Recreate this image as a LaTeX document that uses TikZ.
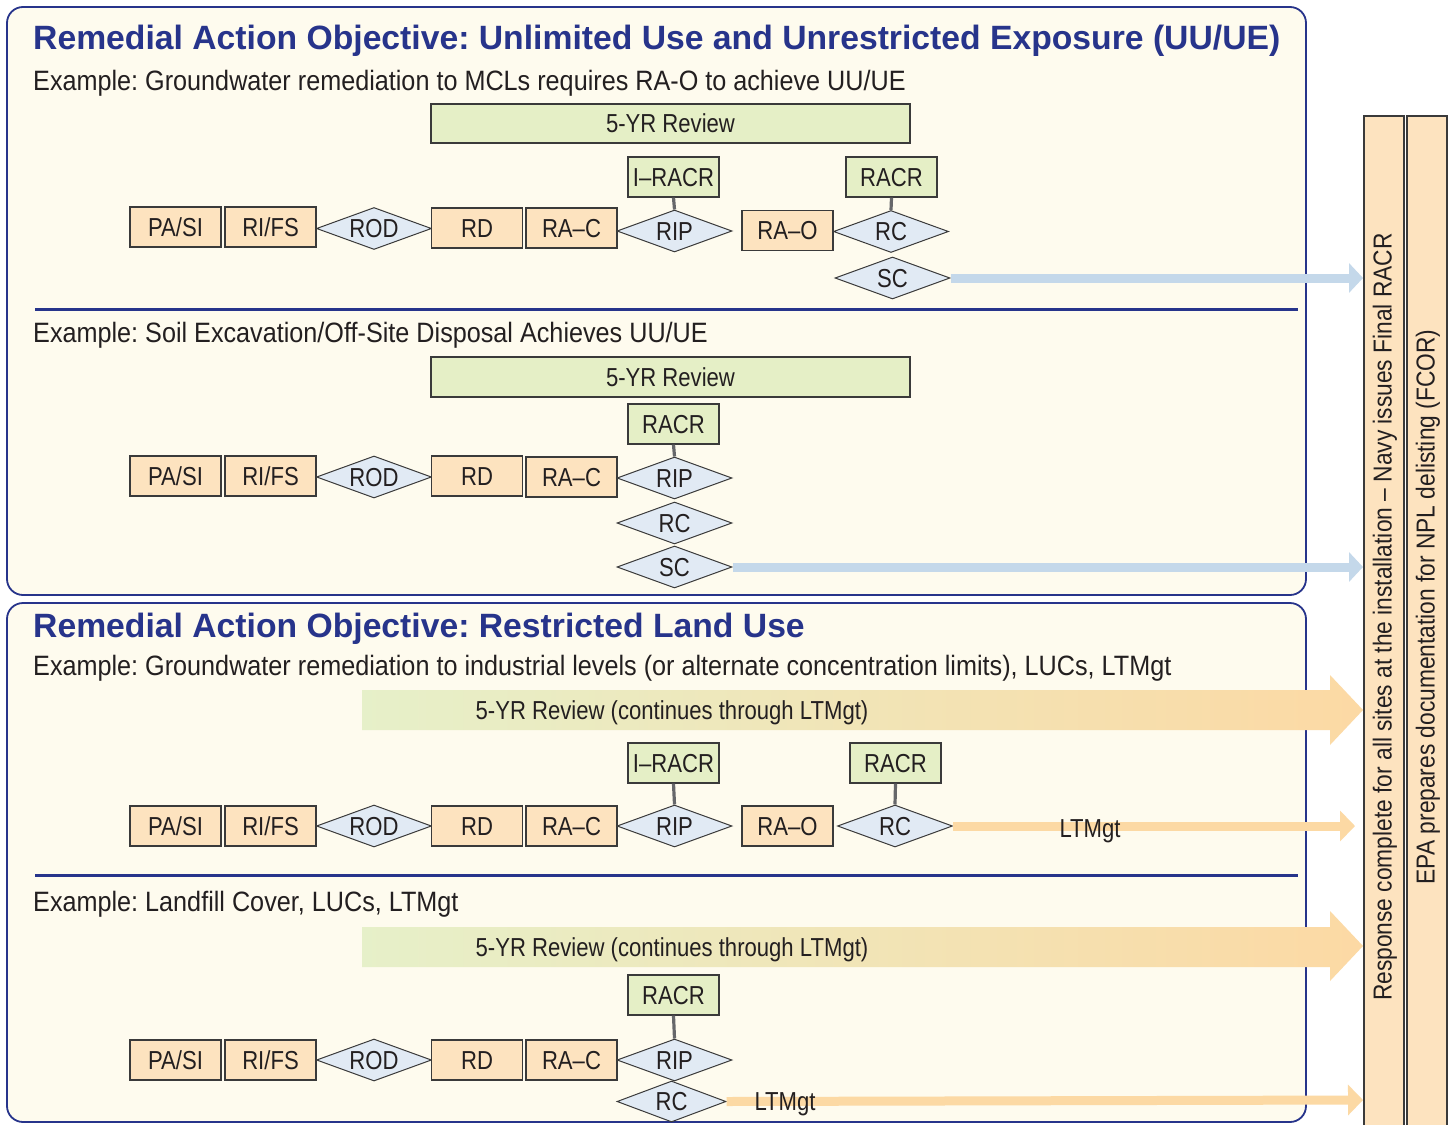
\documentclass[tikz,border=0pt]{standalone}
\usepackage{fontspec}
\setmainfont{Liberation Sans}
\newfontfamily\condf[FakeStretch=0.85]{Liberation Sans}
\newfontfamily\exf[FakeStretch=0.9]{Liberation Sans}
\newfontfamily\barf[FakeStretch=0.875]{Liberation Sans}
\usetikzlibrary{shapes.geometric,arrows.meta}
\definecolor{navy}{HTML}{27348B}
\definecolor{cream}{HTML}{FEFBEE}
\definecolor{peach}{HTML}{FDE3BF}
\definecolor{lgreen}{HTML}{E5EFC6}
\definecolor{lblue}{HTML}{E1EAF4}
\definecolor{bluearr}{HTML}{C4D8EA}
\definecolor{peacharr}{HTML}{FCD9A4}
\definecolor{ink}{HTML}{231F20}
\definecolor{edge}{HTML}{3A3A3A}
\definecolor{conn}{HTML}{66676A}
\tikzset{
 pbox/.style={draw=edge, line width=1.3pt, fill=peach, minimum width=91pt, minimum height=40pt, inner sep=0pt, text=ink, text height=18.7pt, text depth=0pt, font=\condf\fontsize{26}{26}\selectfont},
 gbox/.style={pbox, fill=lgreen},
 dia/.style={diamond, aspect=2.74, draw=edge, line width=1pt, fill=lblue, minimum width=115pt, minimum height=42pt, inner sep=0pt, text=ink, text height=18.7pt, text depth=0pt, font=\condf\fontsize{26}{26}\selectfont},
 panel/.style={draw=navy, line width=1.8pt, fill=cream, rounded corners=16pt},
 divider/.style={navy, line width=3pt},
 titletext/.style={anchor=base west, text=navy, font=\bfseries\fontsize{33.7}{34}\selectfont, inner sep=0pt},
 example/.style={anchor=base west, text=ink, font=\exf\fontsize{28}{28}\selectfont, inner sep=0pt},
 plain/.style={text=ink, inner sep=0pt, text height=18.7pt, text depth=0pt, font=\condf\fontsize{26}{26}\selectfont},
 tie/.style={conn, line width=3.2pt},
 bluearrow/.style={bluearr, line width=9pt, -{Triangle[length=14pt,width=29pt]}},
 peacharrow/.style={peacharr, line width=9pt, -{Triangle[length=15pt,width=30pt]}},
 barbox/.style={draw=edge, line width=1.5pt, fill=peach, minimum width=40pt, minimum height=1030pt, inner sep=0pt},
 bartext/.style={rotate=90, text=ink, inner sep=0pt, font=\barf\fontsize{26}{26}\selectfont},
}
\begin{document}
\frenchspacing
\begin{tikzpicture}[x=1pt,y=-1pt]
\useasboundingbox (0,0) rectangle (1453,1124);
\fill[white] (0,0) rectangle (1453,1124);
% panels
\draw[panel] (7,7) rectangle (1306,595);
\draw[panel] (7,603) rectangle (1306,1122);
\draw[divider] (35,309) -- (1298,309);
\draw[divider] (35,875) -- (1298,875);
% right bars
\node[barbox] (bar1) at (1384,631) {};
\node[barbox] (bar2) at (1427,631) {};
\node[bartext] (bt1) at (1385,617) {Response complete for all sites at the installation – Navy issues Final RACR};
\node[bartext] (bt2) at (1428,607) {EPA prepares documentation for NPL delisting (FCOR)};
% titles
\node[titletext] (t1) at (33,50) {Remedial Action Objective: Unlimited Use and Unrestricted Exposure (UU/UE)};
\node[example] (e1) at (33,90) {Example: Groundwater remediation to MCLs requires RA-O to achieve UU/UE};
\node[example] (e2) at (33,342) {Example: Soil Excavation/Off-Site Disposal Achieves UU/UE};
\node[titletext] (t2) at (33,637) {Remedial Action Objective: Restricted Land Use};
\node[example] (e3) at (33,675) {Example: Groundwater remediation to industrial levels (or alternate concentration limits), LUCs, LTMgt};
\node[example] (e4) at (33,911) {Example: Landfill Cover, LUCs, LTMgt};
% ---- section 1
\node[gbox, minimum width=479pt, minimum height=39pt] (rev1) at (670.5,123.5) {5-YR Review};
\node[pbox] (pasi1) at (175.5,227) {PA/SI};
\node[pbox] (rifs1) at (270.5,227) {RI/FS};
\node[dia] (rod1) at (374,228.5) {ROD};
\node[pbox] (rd1) at (477,228) {RD};
\node[pbox] (rac1) at (571.5,228) {RA–C};
\node[dia] (rip1) at (674.5,231) {RIP};
\node[gbox] (irc1) at (673.5,177) {I–RACR};
\node[pbox] (rao1) at (787.5,230.5) {RA–O};
\node[dia] (rc1) at (891,231.5) {RC};
\node[gbox] (racr1) at (891.5,177) {RACR};
\node[dia] (sc1) at (892.5,278) {SC};
\draw[tie] (irc1.south) -- (rip1.north);
\draw[tie] (racr1.south) -- (rc1.north);
\coordinate (end1) at (1363,278);
\draw[bluearrow] (sc1.east) -- (end1);
% ---- section 2
\node[gbox, minimum width=479pt, minimum height=40pt] (rev2) at (670.5,377) {5-YR Review};
\node[pbox] (pasi2) at (175.5,476) {PA/SI};
\node[pbox] (rifs2) at (270.5,476) {RI/FS};
\node[dia] (rod2) at (374,477) {ROD};
\node[pbox] (rd2) at (477,476) {RD};
\node[pbox] (rac2) at (571.5,477) {RA–C};
\node[dia] (rip2) at (674.5,478) {RIP};
\node[gbox] (racr2) at (673.5,424) {RACR};
\node[dia] (rc2) at (674.5,523) {RC};
\node[dia] (sc2) at (674.5,567) {SC};
\draw[tie] (racr2.south) -- (rip2.north);
\coordinate (end2) at (1363,567);
\draw[bluearrow] (sc2.east) -- (end2);
% ---- section 3
\shade[left color=lgreen!95!white, right color=peacharr] (362,690) -- (1330,690) -- (1330,675) -- (1363,710) -- (1330,745) -- (1330,730) -- (362,730) -- cycle;
\node[plain] (rev3) at (672,710) {5-YR Review (continues through LTMgt)};
\node[pbox] (pasi3) at (175.5,826) {PA/SI};
\node[pbox] (rifs3) at (270.5,826) {RI/FS};
\node[dia] (rod3) at (374,826) {ROD};
\node[pbox] (rd3) at (477,826) {RD};
\node[pbox] (rac3) at (571.5,826) {RA–C};
\node[dia] (rip3) at (674.5,826) {RIP};
\node[gbox] (irc3) at (673.5,763) {I–RACR};
\node[pbox] (rao3) at (787.5,826) {RA–O};
\node[dia] (rc3) at (895,826) {RC};
\node[gbox] (racr3) at (895.5,763) {RACR};
\draw[tie] (irc3.south) -- (rip3.north);
\draw[tie] (racr3.south) -- (rc3.north);
\coordinate (end3) at (1355,826);
\draw[peacharrow] (rc3.east) -- (end3);
\node[plain] (lt3) at (1090,828) {LTMgt};
% ---- section 4
\shade[left color=lgreen!95!white, right color=peacharr] (362,927) -- (1330,927) -- (1330,911) -- (1363,946) -- (1330,981) -- (1330,967) -- (362,967) -- cycle;
\node[plain] (rev4) at (672,947) {5-YR Review (continues through LTMgt)};
\node[gbox] (racr4) at (673.5,995) {RACR};
\node[pbox] (pasi4) at (175.5,1060) {PA/SI};
\node[pbox] (rifs4) at (270.5,1060) {RI/FS};
\node[dia] (rod4) at (374,1060) {ROD};
\node[pbox] (rd4) at (477,1060) {RD};
\node[pbox] (rac4) at (571.5,1060) {RA–C};
\node[dia] (rip4) at (674.5,1060) {RIP};
\node[dia, minimum width=109pt, minimum height=41pt] (rc4) at (671.5,1101.5) {RC};
\draw[tie] (racr4.south) -- (rip4.north);
\coordinate (end4) at (1363,1100);
\draw[peacharrow] (rc4.east) -- (end4);
\node[plain] (lt4) at (785,1101) {LTMgt};
\end{tikzpicture}
\end{document}
